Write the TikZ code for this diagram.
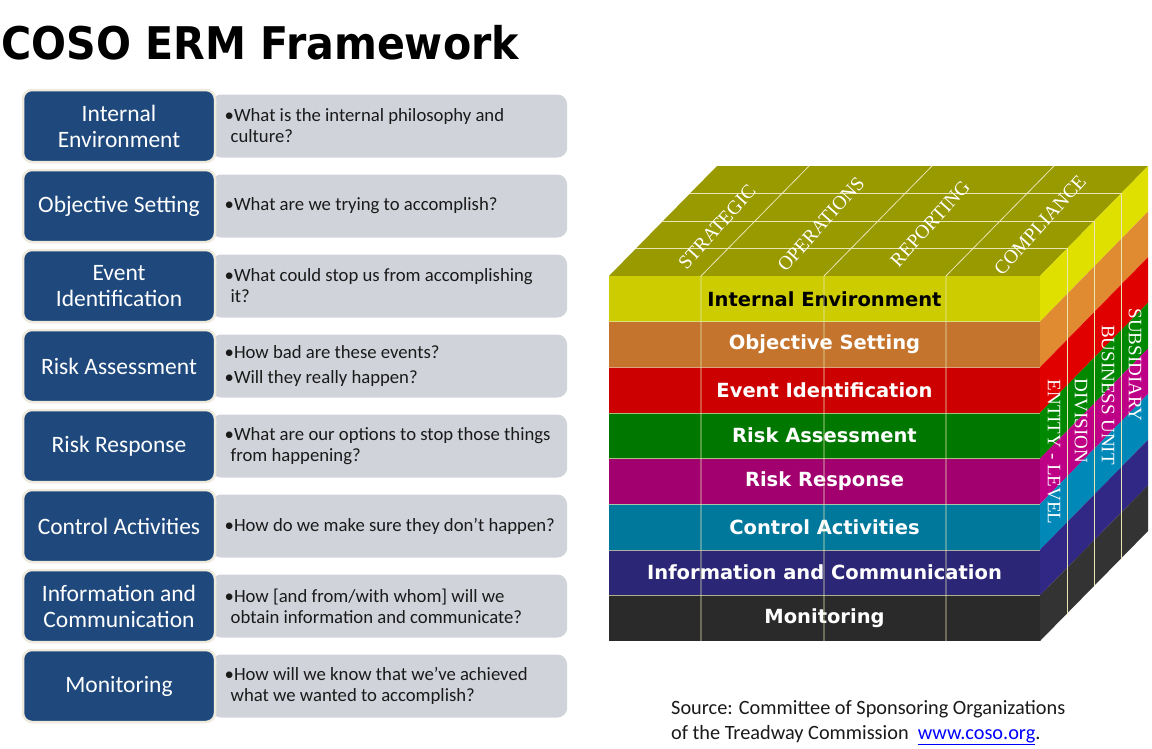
\documentclass[tikz,border=0pt]{standalone}
\usepackage{fontspec}
\newfontfamily\calfont{Carlito}
\newfontfamily\dvfont{DejaVu Sans}
\newfontfamily\tmfont{Liberation Serif}
\definecolor{boxblue}{HTML}{1F497D}
\definecolor{boxgray}{HTML}{D0D3DA}
\definecolor{beigeline}{HTML}{EEEADC}
\definecolor{topolive}{HTML}{999900}
\definecolor{cubeline}{HTML}{E8E6B4}
\definecolor{qtextcol}{HTML}{1A1A1A}
% front colours
\definecolor{fIE}{HTML}{CCCC00}
\definecolor{fOS}{HTML}{C4742C}
\definecolor{fEI}{HTML}{CC0000}
\definecolor{fRA}{HTML}{007800}
\definecolor{fRR}{HTML}{A3006F}
\definecolor{fCA}{HTML}{00789C}
\definecolor{fIC}{HTML}{2B2676}
\definecolor{fMO}{HTML}{2A2A2A}
% side colours
\definecolor{sIE}{HTML}{E0E000}
\definecolor{sOS}{HTML}{E08A32}
\definecolor{sEI}{HTML}{E00000}
\definecolor{sRA}{HTML}{008800}
\definecolor{sRR}{HTML}{BE0086}
\definecolor{sCA}{HTML}{0088B8}
\definecolor{sIC}{HTML}{302884}
\definecolor{sMO}{HTML}{333333}
\newcommand{\ermrow}[3]{%
  \pgfmathsetmacro{\rowy}{126+80*#1}%
  \node[graybox] (q#1) at (211,\rowy) {};
  \node[bluebox] (b#1) at (119,\rowy) {#2};
  \node[qtext] (t#1) at (224.5,\rowy) {#3};
}
\begin{document}
\begin{tikzpicture}[x=1pt,y=-1pt,
  graybox/.style={anchor=west, fill=boxgray, rounded corners=10pt, minimum width=356pt, minimum height=63pt, inner sep=0pt},
  bluebox/.style={fill=boxblue, draw=beigeline, line width=2.5pt, rounded corners=9pt, minimum width=192pt, minimum height=72pt, inner sep=0pt, align=center, text=white, font=\calfont\fontsize{23.5}{26}\selectfont},
  qtext/.style={anchor=west, inner sep=0pt, align=left, text=qtextcol, font=\calfont\fontsize{18.7}{21}\selectfont},
  bandtext/.style={inner sep=0pt, font=\dvfont\bfseries\fontsize{19.5}{22}\selectfont},
  toplabel/.style={inner sep=0pt, text=white, rotate=48, font=\tmfont\fontsize{19.5}{20}\selectfont},
  sidelabel/.style={inner sep=0pt, text=white, rotate=-90, font=\tmfont\fontsize{19}{20}\selectfont},
  cubeln/.style={draw=cubeline, line width=0.8pt},
  srctext/.style={anchor=base west, inner sep=0pt, text=qtextcol, font=\calfont\fontsize{20.3}{25}\selectfont}
]
\useasboundingbox (0,0) rectangle (1152,748);
\fill[white] (0,0) rectangle (1152,748);

% title
\node[anchor=base west, inner sep=0pt, font=\dvfont\bfseries\fontsize{45}{50}\selectfont] (title) at (1,59) {\scalebox{0.915}[1]{COSO ERM Framework}};

% left rows
\ermrow{0}{Internal\\Environment}{•What is the internal philosophy and\\\hspace*{6pt}culture?}
\ermrow{1}{Objective Setting}{•What are we trying to accomplish?}
\ermrow{2}{Event\\Identification}{•What could stop us from accomplishing\\\hspace*{6pt}it?}
\ermrow{3}{Risk Assessment}{•How bad are these events?\\[4pt]•Will they really happen?}
\ermrow{4}{Risk Response}{•What are our options to stop those things\\\hspace*{6pt}from happening?}
\ermrow{5}{Control Activities}{•How do we make sure they don’t happen?}
\ermrow{6}{Information and\\Communication}{•How [and from/with whom] will we\\\hspace*{6pt}obtain information and communicate?}
\ermrow{7}{Monitoring}{•How will we know that we’ve achieved\\\hspace*{6pt}what we wanted to accomplish?}

% cube top face
\fill[topolive] (609,276) -- (717,166) -- (1148,166) -- (1040,276) -- cycle;

% cube bands
\foreach \i/\fc/\sc/\tc/\lab in {0/fIE/sIE/black/Internal Environment,1/fOS/sOS/white/Objective Setting,2/fEI/sEI/white/Event Identification,3/fRA/sRA/white/Risk Assessment,4/fRR/sRR/white/Risk Response,5/fCA/sCA/white/Control Activities,6/fIC/sIC/white/Information and Communication,7/fMO/sMO/white/Monitoring}{
  \pgfmathsetmacro{\t}{276+45.625*\i}
  \fill[\fc] (609,\t) rectangle (1040,\t+45.625);
  \fill[\sc] (1040,\t) -- (1148,\t-110) -- (1148,\t-64.375) -- (1040,\t+45.625) -- cycle;
  \node[bandtext, text=\tc] (band\i) at (824.5,\t+22.8) {\lab};
}
% band separators on the front
\foreach \i in {1,...,7}{
  \pgfmathsetmacro{\t}{276+45.625*\i}
  \draw[draw=cubeline, line width=0.5pt, opacity=0.7] (609,\t) -- (1040,\t);
}
% front vertical lines and top slanted lines
\foreach \x in {701,824,946}{
  \draw[cubeln] (\x,641) -- (\x,276) -- (\x+108,166);
}
% depth lines on top and vertical lines on the side
\foreach \f in {0.25,0.5,0.75}{
  \draw[cubeln] (609+108*\f,276-110*\f) -- (1040+108*\f,276-110*\f) -- (1040+108*\f,641-110*\f);
}

% top labels
\node[toplabel] (strat) at (717,227) {STRATEGIC};
\node[toplabel] (oper) at (821,224) {OPERATIONS};
\node[toplabel] (repo) at (930,224) {REPORTING};
\node[toplabel] (comp) at (1040,225) {COMPLIANCE};

% side labels
\node[sidelabel] (entity) at (1054,452) {ENTITY - LEVEL};
\node[sidelabel] (division) at (1081,421) {DIVISION};
\node[sidelabel] (bunit) at (1108,395) {BUSINESS UNIT};
\node[sidelabel] (subsid) at (1135,365) {SUBSIDIARY};

% source
\node[srctext] (src1) at (671,714) {Source: Committee of Sponsoring Organizations};
\node[srctext] (src2) at (671,739) {of the Treadway Commission\ \ \textcolor{blue}{\underline{www.coso.org}}.};
\end{tikzpicture}
\end{document}
